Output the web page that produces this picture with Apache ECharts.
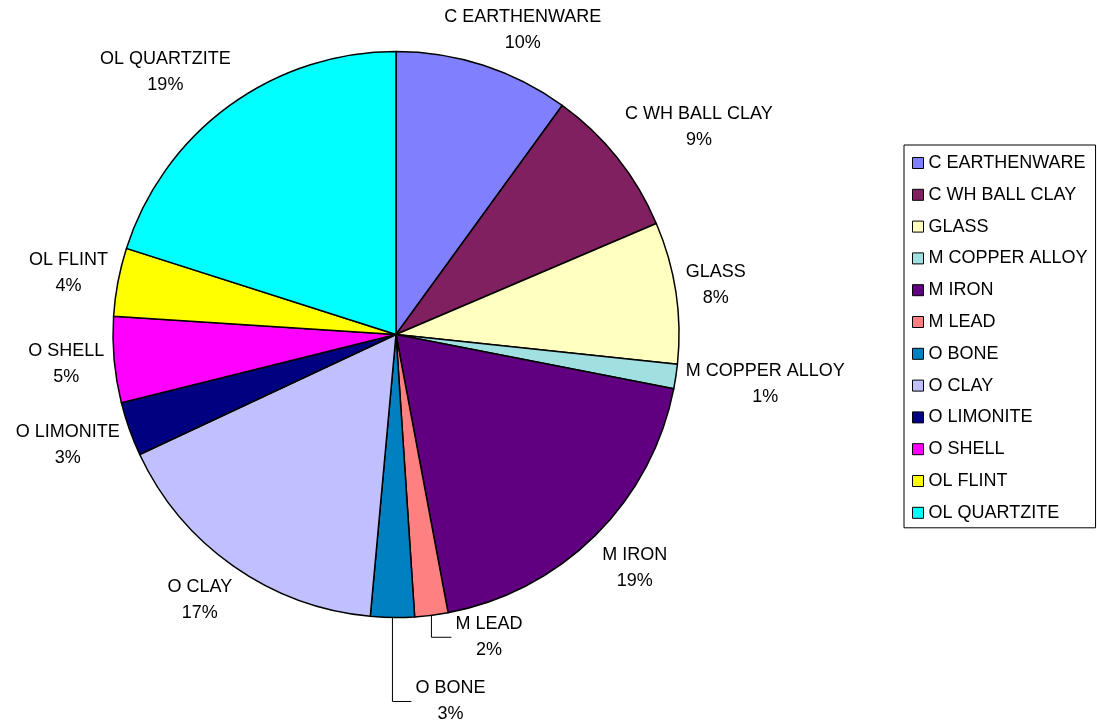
<!DOCTYPE html>
<html><head><meta charset="utf-8">
<script src="https://cdn.jsdelivr.net/npm/echarts@6/dist/echarts.min.js"></script>
<style>html,body{margin:0;padding:0;background:#fff}#c{width:1097px;height:727px}</style>
</head><body><div id="c"></div>
<script>
var categories = ['C EARTHENWARE','C WH BALL CLAY','GLASS','M COPPER ALLOY','M IRON','M LEAD','O BONE','O CLAY','O LIMONITE','O SHELL','OL FLINT','OL QUARTZITE'];
var values = [10.0, 8.6, 8.1, 1.4, 19.0, 1.9, 2.5, 16.6, 3.1, 4.9, 3.9, 20.1];
var percentLabels = [10, 9, 8, 1, 19, 2, 3, 17, 3, 5, 4, 19];
var colors = ['#8080FF','#802060','#FFFFC0','#A0E0E0','#600080','#FF8080','#0080C0','#C0C0FF','#000080','#FF00FF','#FFFF00','#00FFFF'];

var CX = 396, CY = 334.5, R = 283, GAP = 10;
var FONT = 'Liberation Sans';
var leaders = {5: {drop: 22, run: 20}, 6: {drop: 84, run: 19}};

var total = values.reduce(function (s, v) { return s + v; }, 0);
var mids = [];
var cum = 0;
values.forEach(function (v) {
  mids.push((cum + v / 2) / total * Math.PI * 2);
  cum += v;
});
function clamp(v) { return Math.max(-1, Math.min(1, v)); }

var data = categories.map(function (name, i) {
  return {
    name: name,
    value: values[i],
    itemStyle: { color: colors[i] },
    labelLine: { show: !!leaders[i] }
  };
});

var chart = echarts.init(document.getElementById('c'), null, { renderer: 'canvas' });
chart.setOption({
  animation: false,
  backgroundColor: '#ffffff',
  legend: {
    orient: 'vertical',
    left: 904,
    top: 145,
    padding: [8, 8, 5, 8],
    itemGap: 11.8,
    itemWidth: 11,
    itemHeight: 11,
    icon: 'rect',
    borderColor: '#000',
    borderWidth: 1,
    backgroundColor: '#fff',
    itemStyle: { borderColor: '#000', borderWidth: 1 },
    textStyle: { fontFamily: FONT, fontSize: 18, color: '#000', lineHeight: 20 },
    selectedMode: false,
    data: categories
  },
  series: [{
    type: 'pie',
    center: [CX, CY],
    radius: R,
    startAngle: 90,
    clockwise: true,
    avoidLabelOverlap: false,
    emphasis: { disabled: true },
    itemStyle: { borderColor: '#000', borderWidth: 1.5 },
    label: {
      show: true,
      position: 'outside',
      fontFamily: FONT,
      fontSize: 18,
      lineHeight: 26,
      color: '#000',
      formatter: function (p) { return p.name + '\n' + percentLabels[p.dataIndex] + '%'; }
    },
    labelLine: { show: false, lineStyle: { color: '#000', width: 1 } },
    labelLayout: function (p) {
      var i = p.dataIndex, a = mids[i];
      var ux = Math.sin(a), uy = -Math.cos(a);
      var w = p.labelRect.width, h = p.labelRect.height;
      var L = leaders[i];
      if (L) {
        var ex = CX + R * ux, ey = CY + R * uy;
        var ly = ey + L.drop, lx = ex + L.run;
        return { x: lx + 4 + w / 2, y: ly, align: 'center', verticalAlign: 'middle',
                 labelLinePoints: [[ex, ey], [ex, ly], [lx, ly]] };
      }
      var D = R + GAP;
      return {
        x: CX + D * ux + clamp(1.5 * ux) * w / 2,
        y: CY + D * uy + clamp(1.5 * uy) * h / 2,
        align: 'center', verticalAlign: 'middle'
      };
    },
    data: data
  }]
});
</script>
</body></html>
